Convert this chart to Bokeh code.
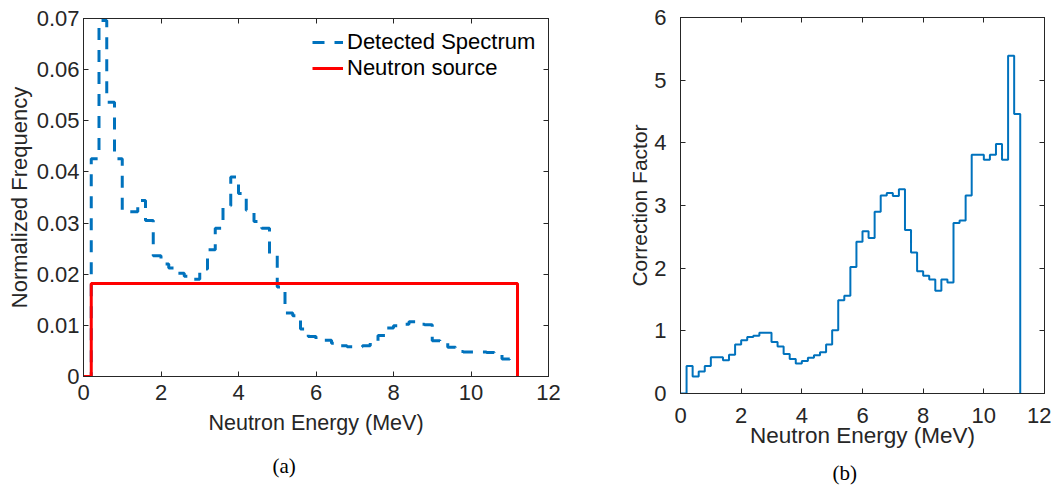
from bokeh.plotting import figure
from bokeh.models import (LinearAxis, Title, Legend, LegendItem, FixedTicker,
                          CustomJSTickFormatter, Range1d)
from bokeh.embed import file_html
from bokeh.resources import INLINE

# ---------------- data ----------------
energy_edges = [0.0, 0.2, 0.4, 0.6, 0.8, 1.0, 1.2, 1.4, 1.6, 1.8, 2.0, 2.2, 2.4, 2.6,
                2.8, 3.0, 3.2, 3.4, 3.6, 3.8, 4.0, 4.2, 4.4, 4.6, 4.8, 5.0, 5.2, 5.4,
                5.6, 5.8, 6.0, 6.2, 6.4, 6.6, 6.8, 7.0, 7.2, 7.4, 7.6, 7.8, 8.0, 8.2,
                8.4, 8.6, 8.8, 9.0, 9.2, 9.4, 9.6, 9.8, 10.0, 10.2, 10.4, 10.6, 10.8,
                11.0, 11.2]

detected = [0.0426, 0.0696, 0.0536, 0.0426, 0.0322, 0.0322, 0.0344, 0.0305, 0.0236,
            0.0220, 0.0212, 0.0202, 0.0196, 0.0190, 0.0210, 0.0248, 0.0290, 0.0334,
            0.0390, 0.0358, 0.0325, 0.0303, 0.0290, 0.0240, 0.0175, 0.0124, 0.0119,
            0.0093, 0.0078, 0.0071, 0.0071, 0.0065, 0.0060, 0.0058, 0.0058, 0.0060,
            0.0070, 0.0080, 0.0095, 0.0099, 0.0102, 0.0107, 0.0102, 0.0101, 0.0070,
            0.0066, 0.0057, 0.0049, 0.0048, 0.0048, 0.0048, 0.0047, 0.0045, 0.0034,
            0.0038]

source_level = 0.0182  # uniform neutron source, 55 bins

correction = [0.44, 0.27, 0.35, 0.44, 0.58, 0.58, 0.53, 0.62, 0.78, 0.85, 0.90, 0.92,
              0.97, 0.97, 0.82, 0.75, 0.63, 0.55, 0.48, 0.52, 0.57, 0.61, 0.66, 0.78,
              1.01, 1.49, 1.56, 2.02, 2.42, 2.59, 2.48, 2.90, 3.16, 3.20, 3.15, 3.26,
              2.61, 2.25, 1.95, 1.88, 1.82, 1.64, 1.82, 1.77, 2.72, 2.76, 3.16, 3.81,
              3.81, 3.73, 3.81, 3.98, 3.73, 5.39, 4.46]

x_ticks = [0, 2, 4, 6, 8, 10, 12]
y_ticks_left = [0, 0.01, 0.02, 0.03, 0.04, 0.05, 0.06, 0.07]
y_labels_left = ["0", "0.01", "0.02", "0.03", "0.04", "0.05", "0.06", "0.07"]
y_ticks_right = [0, 1, 2, 3, 4, 5, 6]

# stairs: leading and trailing zero
det_y = [0.0] + detected + [0.0]
src_y = [0.0] + [source_level] * len(detected) + [0.0]
cor_y = [0.0] + correction + [0.0]

FONT = "Liberation Sans"
AX = "#262626"
BLUE = "#0072BD"
RED = "#FF0000"


def style(p, tick_fs, label_fs):
    p.grid.visible = False
    p.outline_line_color = AX
    p.outline_line_width = 1
    p.background_fill_color = "white"
    p.border_fill_color = "white"
    for ax in p.xaxis + p.yaxis:
        ax.axis_line_color = AX
        ax.major_tick_line_color = AX
        ax.major_tick_in = 5
        ax.major_tick_out = 0
        ax.minor_tick_line_color = None
        ax.major_label_text_font = FONT
        ax.major_label_text_font_size = tick_fs
        ax.major_label_text_color = AX
        ax.axis_label_text_font = FONT
        ax.axis_label_text_font_size = label_fs
        ax.axis_label_text_font_style = "normal"
        ax.axis_label_text_color = AX


def add_mirror_axes(p, xt, yt):
    blank = CustomJSTickFormatter(code="return ''")
    top = LinearAxis(ticker=FixedTicker(ticks=xt), formatter=blank)
    right = LinearAxis(ticker=FixedTicker(ticks=yt), formatter=blank)
    for ax in (top, right):
        ax.axis_line_color = AX
        ax.major_tick_line_color = AX
        ax.major_tick_in = 5
        ax.major_tick_out = 0
        ax.minor_tick_line_color = None
        ax.major_label_standoff = 0
        ax.major_label_text_font_size = "1px"
    p.add_layout(top, "above")
    p.add_layout(right, "right")


# ---------------- left panel ----------------
p1 = figure(width=600, height=494, x_range=Range1d(0, 12), y_range=Range1d(0, 0.07),
            output_backend="svg", toolbar_location=None,
            min_border_left=83, min_border_right=52, min_border_top=18,
            min_border_bottom=118, name="left")
p1.xaxis.ticker = FixedTicker(ticks=x_ticks)
p1.yaxis.ticker = FixedTicker(ticks=y_ticks_left)
p1.yaxis.major_label_overrides = {t: l for t, l in zip(y_ticks_left, y_labels_left)}
p1.xaxis.axis_label = "Neutron Energy (MeV)"
p1.yaxis.axis_label = "Normalized Frequency"
style(p1, "22px", "22px")
p1.xaxis.axis_label_text_font_size = "21.5px"
p1.xaxis.major_label_standoff = 8
p1.yaxis.major_label_standoff = 4
p1.xaxis.axis_label_standoff = 8
p1.yaxis.axis_label_standoff = 2
add_mirror_axes(p1, x_ticks, y_ticks_left)

r_det = p1.step(energy_edges, det_y, mode="after", line_color=BLUE, line_width=3,
                line_dash="12 10")
r_src = p1.step(energy_edges, src_y, mode="after", line_color=RED, line_width=3)

legend = Legend(items=[LegendItem(label="Detected Spectrum", renderers=[r_det]),
                       LegendItem(label="Neutron source", renderers=[r_src])],
                location=(229, 295), border_line_alpha=0, background_fill_alpha=0,
                label_text_font=FONT, label_text_font_size="22px",
                label_text_color="black", glyph_width=31, label_standoff=4,
                padding=0, margin=0, spacing=0, label_height=26, glyph_height=26)
p1.add_layout(legend)

cap1 = Title(text="(a)", align="left", offset=189, text_font="Liberation Serif",
             text_font_size="21px", text_font_style="normal", text_color="black",
             standoff=29)
p1.add_layout(cap1, "below")

# ---------------- right panel ----------------
p2 = figure(width=451, height=494, x_range=Range1d(0, 12), y_range=Range1d(0, 6),
            output_backend="svg", toolbar_location=None,
            min_border_left=80, min_border_right=7, min_border_top=17,
            min_border_bottom=101, name="right")
p2.xaxis.ticker = FixedTicker(ticks=x_ticks)
p2.yaxis.ticker = FixedTicker(ticks=y_ticks_right)
p2.xaxis.axis_label = "Neutron Energy (MeV)"
p2.yaxis.axis_label = "Correction Factor"
style(p2, "22px", "22px")
p2.yaxis.axis_label_text_font_size = "21px"
p2.xaxis.axis_label_text_font_size = "22.5px"
p2.xaxis.major_label_standoff = 14
p2.yaxis.major_label_standoff = 14
p2.xaxis.axis_label_standoff = -3
p2.yaxis.axis_label_standoff = 0
add_mirror_axes(p2, x_ticks, y_ticks_right)

p2.step(energy_edges, cor_y, mode="after", line_color=BLUE, line_width=2)

cap2 = Title(text="(b)", align="left", offset=152, text_font="Liberation Serif",
             text_font_size="21px", text_font_style="normal", text_color="black",
             standoff=17)
p2.add_layout(cap2, "below")

# two independent roots side by side (no frame alignment between them)
template = """
{% block contents %}
{% from macros import embed %}
<div style="display:flex;flex-direction:row;align-items:flex-start;">
{{ embed(roots[0]) }}
{{ embed(roots[1]) }}
</div>
{% endblock %}
"""

open("out.html", "w").write(file_html([p1, p2], INLINE, template=template))
